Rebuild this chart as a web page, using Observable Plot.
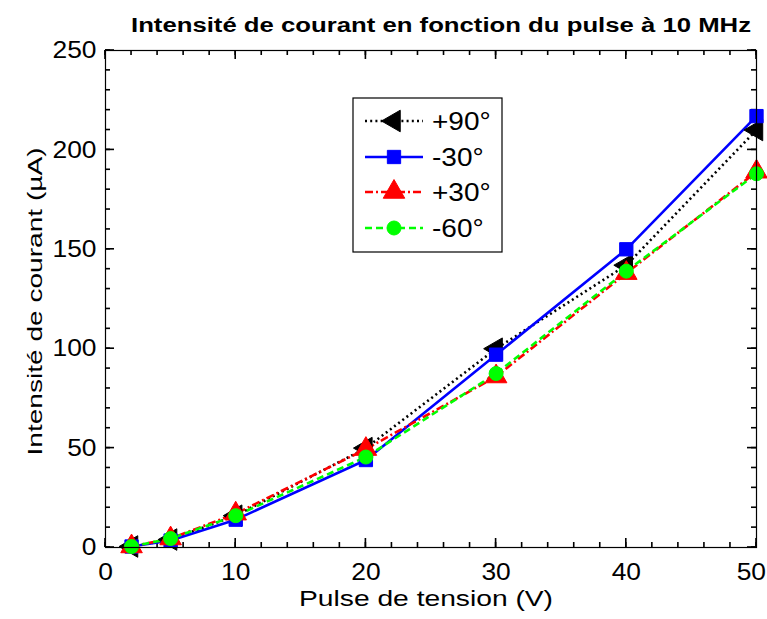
<!DOCTYPE html>
<html>
<head>
<meta charset="utf-8">
<script src="https://cdn.jsdelivr.net/npm/d3@7"></script>
<script src="https://cdn.jsdelivr.net/npm/@observablehq/plot@0.6"></script>
<style>
  html, body { margin: 0; padding: 0; background: #fff; overflow: hidden; }
  #chart svg { display: block; }
</style>
</head>
<body>
<div id="chart"></div>
<script>
// ---- Data ----
const pulses = [2, 5, 10, 20, 30, 40, 50];
const seriesNames = ["+90°", "-30°", "+30°", "-60°"];
const valsPlus90 = [0.5, 4, 16, 50, 100, 142, 210];
const valsMinus30 = [0.5, 3.5, 14, 44, 97, 150, 217];
const valsPlus30 = [0.5, 4.5, 17, 49.5, 86, 138, 189];
const valsMinus60 = [0.5, 4.5, 16, 45.5, 87.5, 139, 188];
const xMajorTicks = [0, 10, 20, 30, 40, 50];
const yMajorTicks = [0, 50, 100, 150, 200, 250];
const xMinorTicks = d3.range(0, 50.01, 2);
const yMinorTicks = d3.range(0, 250.01, 10);

const titleText = "Intensité de courant en fonction du pulse à 10 MHz";
const xLabel = "Pulse de tension (V)";
const yLabel = "Intensité de courant (µA)";

const styles = [
  {name: seriesNames[0], values: valsPlus90, color: "#000000", dash: "2,3.2", symbol: "triangle", rotate: -90, r: 8},
  {name: seriesNames[1], values: valsMinus30, color: "#0000ff", dash: null, symbol: "square", rotate: 0, r: 7.5},
  {name: seriesNames[2], values: valsPlus30, color: "#ff0000", dash: "8,3,2,3", symbol: "triangle", rotate: 0, r: 8},
  {name: seriesNames[3], values: valsMinus60, color: "#00ff00", dash: "7,4", symbol: "circle", rotate: 0, r: 7}
];

const font = "Arial, 'Liberation Sans', sans-serif";
const W = 767, H = 619;
const mL = 105, mR = 11, mT = 50, mB = 72;
const majLen = 9, minLen = 5, tickW = 1.6;

const marks = [];
for (const s of styles) {
  const data = pulses.map((p, i) => ({x: p, y: s.values[i]}));
  marks.push(Plot.line(data, {x: "x", y: "y", stroke: s.color, strokeWidth: 2.6, strokeDasharray: s.dash, strokeLinecap: "butt"}));
}
for (const s of styles) {
  const data = pulses.map((p, i) => ({x: p, y: s.values[i]}));
  marks.push(Plot.dot(data, {x: "x", y: "y", fill: s.color, stroke: s.color, strokeWidth: 1, symbol: s.symbol, r: s.r, rotate: s.rotate}));
}

// Inward ticks on the four sides, as thin filled rectangles placed through the scales
const plotW = W - mL - mR, plotH = H - mT - mB;
const pxPerX = plotW / 50, pxPerY = plotH / 250;
function xTickRects(vals, len) {
  const d = len / pxPerY, hw = tickW / 2 / pxPerX;
  return vals.flatMap(v => [
    {x1: v - hw, x2: v + hw, y1: 0, y2: d},
    {x1: v - hw, x2: v + hw, y1: 250 - d, y2: 250}
  ]);
}
function yTickRects(vals, len) {
  const d = len / pxPerX, hh = tickW / 2 / pxPerY;
  return vals.flatMap(v => [
    {x1: 0, x2: d, y1: v - hh, y2: v + hh},
    {x1: 50 - d, x2: 50, y1: v - hh, y2: v + hh}
  ]);
}
const tickRects = [
  ...xTickRects(xMinorTicks, minLen), ...yTickRects(yMinorTicks, minLen),
  ...xTickRects(xMajorTicks, majLen), ...yTickRects(yMajorTicks, majLen)
];

const chart = Plot.plot({
  width: W, height: H,
  marginLeft: mL, marginRight: mR, marginTop: mT, marginBottom: mB,
  style: {fontFamily: font, background: "#fff", overflow: "visible"},
  x: {domain: [0, 50], label: null},
  y: {domain: [0, 250], label: null},
  marks: [
    Plot.axisX(xMajorTicks, {anchor: "bottom", tickSize: 0, tickPadding: 15, fontSize: 24, fill: "#000", label: null}),
    Plot.axisY(yMajorTicks, {anchor: "left", tickSize: 0, tickPadding: 9, fontSize: 24, fill: "#000", label: null}),
    Plot.rect(tickRects, {x1: "x1", x2: "x2", y1: "y1", y2: "y2", fill: "#000", inset: 0}),
    ...marks,
    Plot.frame({stroke: "#000", strokeWidth: 1.2}),
    Plot.text([titleText], {frameAnchor: "top", dx: 10, dy: -33, fontSize: 20, fontWeight: "bold", fill: "#000", text: d => d, className: "stretch-title"}),
    Plot.text([xLabel], {frameAnchor: "bottom", textAnchor: "middle", dx: -5, dy: 58, fontSize: 22, fill: "#000", text: d => d, className: "stretch-xlabel"}),
    Plot.text([yLabel], {frameAnchor: "left", textAnchor: "middle", dx: -70, dy: 2.5, rotate: -90, fontSize: 21, fill: "#000", text: d => d, className: "stretch-ylabel"})
  ]
});
document.getElementById("chart").appendChild(chart);

const svg = d3.select(chart);

function stretch(sel, len) {
  sel.each(function() {
    this.setAttribute("textLength", len);
    this.setAttribute("lengthAdjust", "spacingAndGlyphs");
  });
}
stretch(svg.selectAll(".stretch-title text"), 620);
stretch(svg.selectAll(".stretch-xlabel text"), 254);
stretch(svg.selectAll(".stretch-ylabel text"), 308);

svg.selectAll("g[aria-label='x-axis tick label'] text, g[aria-label='y-axis tick label'] text").each(function() {
  const n = this.getComputedTextLength();
  this.setAttribute("textLength", n * 1.1);
  this.setAttribute("lengthAdjust", "spacingAndGlyphs");
});
svg.selectAll("g[aria-label='x-axis tick label'] text").each(function() {
  const b = this.getBBox();
  const ctm = this.getCTM();
  const right = (ctm ? ctm.e : 0) + b.x + b.width;
  if (right > W - 1) {
    const shift = right - (W - 1);
    const old = this.getAttribute("dx");
    this.setAttribute("dx", (parseFloat(old) || 0) - shift);
  }
});

// ---- Legend ----
const lg = svg.append("g").attr("font-family", font);
const bx = 353, by = 98, bw = 149, bh = 154;
lg.append("rect").attr("x", bx).attr("y", by).attr("width", bw).attr("height", bh)
  .attr("fill", "#fff").attr("stroke", "#000").attr("stroke-width", 1.2);
const rowY = [121, 157, 192, 228];
styles.forEach((s, i) => {
  const y = rowY[i];
  lg.append("line").attr("x1", 365).attr("x2", 423).attr("y1", y).attr("y2", y)
    .attr("stroke", s.color).attr("stroke-width", 2.6)
    .attr("stroke-dasharray", s.dash);
  const area = Math.PI * s.r * s.r;
  const sym = s.symbol === "circle" ? d3.symbolCircle : s.symbol === "square" ? d3.symbolSquare : d3.symbolTriangle;
  lg.append("path").attr("d", d3.symbol(sym, area)())
    .attr("transform", `translate(394,${y}) rotate(${s.rotate})`)
    .attr("fill", s.color).attr("stroke", s.color).attr("stroke-width", 1);
  const t = lg.append("text").attr("x", 432).attr("y", y).attr("dy", "0.36em")
    .attr("text-anchor", "start")
    .attr("font-size", 25).attr("fill", "#000").text(s.name);
  const n = t.node().getComputedTextLength();
  t.attr("textLength", n * 1.12).attr("lengthAdjust", "spacingAndGlyphs");
});
</script>
</body>
</html>
